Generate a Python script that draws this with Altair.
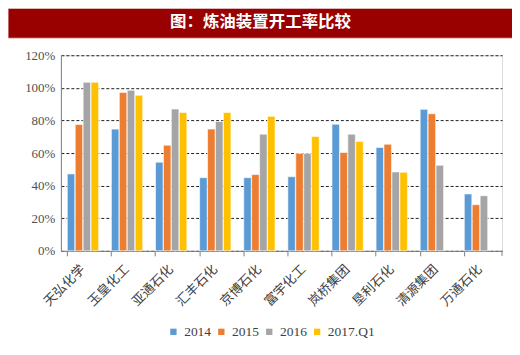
import altair as alt
import pandas as pd

categories = ["天弘化学", "玉皇化工", "亚通石化", "汇丰石化", "京博石化",
              "富宇化工", "岚桥集团", "垦利石化", "清源集团", "万通石化"]
series = ["2014", "2015", "2016", "2017.Q1"]
v2014 = [47.2, 74.7, 54.4, 44.9, 44.9, 45.5, 77.7, 63.4, 86.8, 34.9]
v2015 = [77.5, 97.2, 64.8, 74.7, 46.8, 59.7, 60.3, 65.4, 84.1, 28.3]
v2016 = [103.4, 98.5, 87.0, 79.4, 71.6, 59.7, 71.6, 48.4, 52.5, 33.8]
v2017q1 = [103.4, 95.4, 84.9, 84.9, 82.5, 70.2, 67.1, 48.2, None, None]
colors = ["#5B9BD5", "#ED7D31", "#A5A5A5", "#FFC000"]
y_ticks = [0, 20, 40, 60, 80, 100, 120]
title_text = "图：炼油装置开工率比较"

rows = []
for s, vals in zip(series, [v2014, v2015, v2016, v2017q1]):
    for c, v in zip(categories, vals):
        if v is not None:
            rows.append({"company": c, "year": s, "rate": v / 100})
df = pd.DataFrame(rows)

W, H = 442, 196
serif = "Liberation Serif"
cjk = "Noto Sans CJK SC"

bars = alt.Chart(df).mark_bar(stroke="white", strokeWidth=0.6).encode(
    x=alt.X("company:N", sort=categories, title=None,
            scale=alt.Scale(paddingInner=0.29, paddingOuter=0.145),
            axis=alt.Axis(labelAngle=-45, labelAlign="right", labelBaseline="middle",
                          labelFont=cjk, labelFontSize=13, labelColor="#404040",
                          labelPadding=11, bandPosition=0, tickSize=5,
                          tickColor="#808080", domainColor="#808080",
                          grid=False)),
    xOffset=alt.XOffset("year:N", sort=series, scale=alt.Scale(domain=series, paddingInner=0.05)),
    y=alt.Y("rate:Q", title=None,
            scale=alt.Scale(domain=[0, 1.2], nice=False),
            axis=alt.Axis(values=[t / 100 for t in y_ticks], format=".0%",
                          labelFont=serif, labelFontSize=13, labelColor="#505050",
                          ticks=False, labelPadding=6, domainColor="#808080",
                          gridColor="#222222", gridDash=[3, 2], gridWidth=1)),
    color=alt.Color("year:N", sort=series,
                    scale=alt.Scale(domain=series, range=colors),
                    legend=alt.Legend(title=None, orient="none", direction="horizontal",
                                      legendX=106, legendY=270, symbolType="square",
                                      symbolSize=40, symbolStrokeWidth=0,
                                      labelFont=serif, labelFontSize=13.5,
                                      labelColor="#404040", columnPadding=3,
                                      labelOffset=4)),
)

one = alt.Data(values=[{}])
end_tick = alt.Chart(one).mark_rule(color="#808080").encode(
    x=alt.value(W), y=alt.value(H), y2=alt.value(H + 5))
title_bg = alt.Chart(one).mark_rect(color="#990000", stroke="#e8d0d0", strokeWidth=1).encode(
    x=alt.value(-53), x2=alt.value(455), y=alt.value(-47), y2=alt.value(-17))
title_txt = alt.Chart(one).mark_text(text=title_text, color="white", font=cjk,
                                     fontSize=16.5, fontWeight="bold",
                                     align="center", baseline="middle").encode(
    x=alt.value(200), y=alt.value(-33))

chart = alt.layer(bars, end_tick, title_bg, title_txt).properties(
    width=W, height=H,
    autosize=alt.AutoSizeParams(type="none"),
    padding={"left": 53, "top": 47, "right": 10, "bottom": 92},
).configure_view(stroke=None).configure(background="white")

chart.save("out.html", embed_options={"renderer": "svg", "actions": False})
